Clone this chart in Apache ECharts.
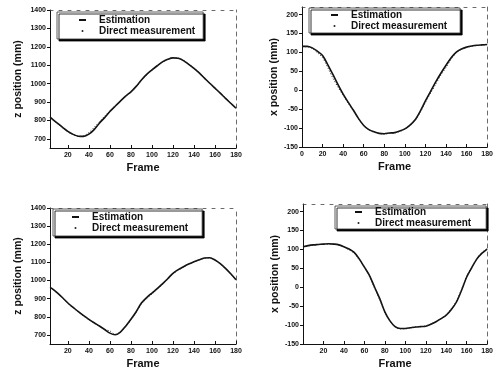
<!DOCTYPE html>
<html><head><meta charset="utf-8">
<script src="https://cdn.jsdelivr.net/npm/echarts@6/dist/echarts.min.js"></script>
<style>html,body{margin:0;padding:0;background:#fff}#c{width:496px;height:374px}</style>
</head><body><div id="c"></div>
<script>
// ---- data ----
const framesA = [3,5,10,15,20,25,30,35,40,45,50,55,60,65,70,75,80,85,90,95,100,105,110,115,120,125,130,135,140,145,150,155,160,165,170,175,180];
const framesB = [0,5,10,15,20,25,30,35,40,45,50,55,60,65,70,75,80,85,90,95,100,105,110,115,120,125,130,135,140,145,150,155,160,165,170,175,180];

const est1 = [818,808,785,762,740,724,714,713,725,750,785,815,848,877,905,932,955,985,1020,1050,1074,1097,1118,1132,1140,1138,1125,1105,1083,1058,1030,1002,975,948,920,893,866];
const dir1 = [815,806,783,760,738,722,713,716,734,762,793,823,852,880,906,930,953,983,1017,1047,1072,1095,1116,1131,1141,1139,1127,1107,1085,1060,1032,1005,977,950,922,895,868];

const est2 = [116,116,112,103,92,68,42,15,-10,-32,-53,-75,-93,-104,-110,-114,-115,-113,-112,-108,-102,-92,-78,-55,-28,-3,22,45,66,86,101,109,114,117,119,120,121];
const dir2 = [115,115,110,99,86,60,32,8,-14,-35,-55,-76,-94,-105,-111,-114,-116,-114,-113,-109,-103,-93,-80,-58,-32,-8,16,40,60,82,99,108,113,116,118,119,120];

const est3 = [962,955,932,905,876,852,828,806,786,767,749,730,710,701,716,748,786,828,876,906,931,955,982,1010,1040,1060,1076,1091,1104,1115,1124,1126,1113,1093,1067,1037,1004];
const dir3 = [960,953,930,903,874,850,826,804,784,765,747,729,722,703,716,745,783,824,870,900,925,952,978,1006,1036,1057,1074,1090,1103,1114,1123,1125,1112,1092,1066,1035,1002];

const est4 = [107,110,112,113,114,115,114,112,107,101,92,75,53,31,0,-30,-65,-89,-104,-109,-109,-107,-105,-104,-103,-98,-91,-83,-74,-59,-39,-8,27,52,75,90,101];
const dir4 = [106,109,111,113,114,114,114,111,106,99,90,72,55,28,-3,-33,-67,-90,-105,-110,-110,-107,-105,-104,-102,-97,-90,-82,-72,-56,-36,-5,29,54,76,92,102];

const xLabelsA = [20,40,60,80,100,120,140,160,180];
const xLabelsB = [0,20,40,60,80,100,120,140,160,180];
const yLabelsZ = [700,800,900,1000,1100,1200,1300,1400];
const yLabelsX = [-150,-100,-50,0,50,100,150,200];
const seriesNames = ['Estimation','Direct measurement'];
const xName = 'Frame';
const yNames = ['z position (mm)','x position (mm)','z position (mm)','x position (mm)'];

// ---- layout ----
const panels = [
  {grid:{left:50,top:10,width:186,height:138}, frames:framesA, est:est1, dir:dir1, xmin:3, xlabels:xLabelsA, ymin:650, ymax:1400, ylabels:yLabelsZ, yName:yNames[0], nameGap:26,
   legend:{left:57,top:12,padding:[3,8,3,22]}},
  {grid:{left:302,top:7,width:192,height:140}, frames:framesB, est:est2, dir:dir2, xmin:0, xlabels:xLabelsB, ymin:-150, ymax:220, ylabels:yLabelsX, yName:yNames[1], nameGap:17,
   legend:{left:309,top:8,padding:[2,13,2,22]}},
  {grid:{left:50,top:208,width:186,height:136}, frames:framesA, est:est3, dir:dir3, xmin:3, xlabels:xLabelsA, ymin:650, ymax:1400, ylabels:yLabelsZ, yName:yNames[2], nameGap:26,
   legend:{left:53,top:209,padding:[3,14,3,19]}},
  {grid:{left:303,top:204,width:191,height:140}, frames:framesB, est:est4, dir:dir4, xmin:0, xlabels:xLabelsA, ymin:-150, ymax:220, ylabels:yLabelsX, yName:yNames[3], nameGap:17,
   legend:{left:335,top:206,padding:[1,15,1,20]}}
];

const FONT = 'Liberation Sans';
const grids=[], xAxes=[], yAxes=[], series=[], legends=[];
panels.forEach((p,i)=>{
  grids.push(Object.assign({containLabel:false}, p.grid));
  const xi = xAxes.length, yi = yAxes.length;
  xAxes.push({type:'value', gridIndex:i, min:p.xmin, max:180,
    name:xName, nameLocation:'middle', nameGap:14,
    nameTextStyle:{fontFamily:FONT, fontWeight:'bold', fontSize:11, color:'#111'},
    axisLine:{onZero:false, lineStyle:{color:'#111', width:1}},
    axisTick:{show:true, inside:true, length:3, customValues:p.xlabels, lineStyle:{color:'#111'}},
    axisLabel:{customValues:p.xlabels, formatter:(v)=>String(v), fontFamily:FONT, fontWeight:'bold', fontSize:7, color:'#111', margin:4},
    splitLine:{show:false}});
  xAxes.push({type:'value', gridIndex:i, position:'top', min:p.xmin, max:180,
    axisLine:{show:true, onZero:false, lineStyle:{color:'#444', width:0.8, type:[3,6]}},
    axisTick:{show:false}, axisLabel:{show:false}, splitLine:{show:false}});
  yAxes.push({type:'value', gridIndex:i, min:p.ymin, max:p.ymax,
    name:p.yName, nameLocation:'middle', nameGap:p.nameGap,
    nameTextStyle:{fontFamily:FONT, fontWeight:'bold', fontSize:10.5, color:'#111'},
    axisLine:{show:true, onZero:false, lineStyle:{color:'#111', width:1}},
    axisTick:{show:true, length:3, customValues:p.ylabels, lineStyle:{color:'#111'}},
    axisLabel:{customValues:p.ylabels, formatter:(v)=>String(v), fontFamily:FONT, fontWeight:'bold', fontSize:7, color:'#111', margin:4},
    splitLine:{show:false}});
  yAxes.push({type:'value', gridIndex:i, position:'right', min:p.ymin, max:p.ymax,
    axisLine:{show:true, onZero:false, lineStyle:{color:'#444', width:0.8, type:[4,4]}},
    axisTick:{show:false}, axisLabel:{show:false}, splitLine:{show:false}});
  series.push({type:'line', name:seriesNames[0], xAxisIndex:xi, yAxisIndex:yi, smooth:0.3,
    showSymbol:false, lineStyle:{color:'#111', width:1.6}, itemStyle:{color:'#111'},
    data:p.frames.map((f,k)=>[f,p.est[k]])});
  series.push({type:'line', name:seriesNames[1], xAxisIndex:xi, yAxisIndex:yi, smooth:0.3,
    showSymbol:false, lineStyle:{color:'#222', width:1, type:[1,2]}, itemStyle:{color:'#222'},
    data:p.frames.map((f,k)=>[f,p.dir[k]])});
  legends.push({left:p.legend.left, top:p.legend.top, orient:'vertical', padding:p.legend.padding,
    backgroundColor:'#fff', borderColor:'#333', borderWidth:0.8,
    shadowColor:'#000', shadowBlur:0, shadowOffsetX:2, shadowOffsetY:2,
    itemWidth:7, itemHeight:2, itemGap:1, selectedMode:false,
    textStyle:{fontFamily:FONT, fontWeight:'bold', fontSize:10, color:'#111', padding:[0,0,0,8]},
    data:[{name:seriesNames[0], icon:'rect'},{name:seriesNames[1], icon:'circle'}]});
});

const chart = echarts.init(document.getElementById('c'), null, {renderer:'canvas'});
chart.setOption({animation:false, backgroundColor:'#fff', grid:grids, xAxis:xAxes, yAxis:yAxes, series:series, legend:legends});
</script>
</body></html>
